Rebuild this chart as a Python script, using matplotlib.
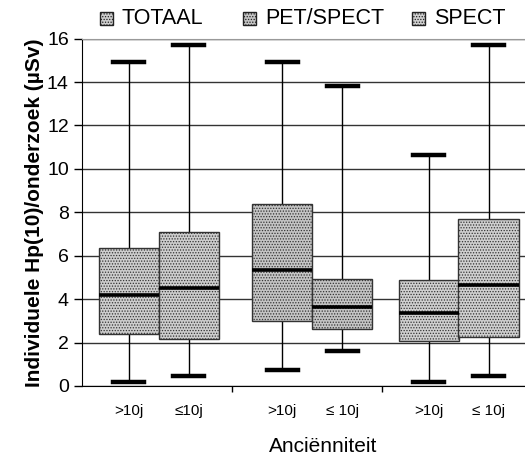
import numpy as np
import matplotlib
matplotlib.use("Agg")
import matplotlib.pyplot as plt
from matplotlib.patches import Rectangle

plt.rcParams["font.family"] = ["Liberation Sans", "DejaVu Sans"]
plt.rcParams["hatch.linewidth"] = 0.6

series = ["TOTAAL", "PET/SPECT", "SPECT"]
age_labels = [">10j", "\u226410j", ">10j", "\u2264 10j", ">10j", "\u2264 10j"]

# per box: TOTAAL >10j, TOTAAL <=10j, PET/SPECT >10j, ..., SPECT <=10j
whis_low = [0.18, 0.46, 0.74, 1.61, 0.18, 0.45]
q1 = [2.40, 2.15, 3.00, 2.61, 2.09, 2.24]
median = [4.17, 4.52, 5.34, 3.65, 3.38, 4.64]
q3 = [6.36, 7.07, 8.37, 4.94, 4.89, 7.69]
whis_high = [14.94, 15.70, 14.94, 13.81, 10.63, 15.70]

fills = ["#cdcdcd", "#c4c4c4", "#cfcfcf"]

W, H = 525, 454
fig = plt.figure(figsize=(W / 100, H / 100), dpi=100)
ax = fig.add_axes([82 / W, 68 / H, 443 / W, 347.4 / H])

stats = []
for i in range(6):
    stats.append(dict(med=median[i], q1=q1[i], q3=q3[i],
                      whislo=whis_low[i], whishi=whis_high[i], fliers=[]))

offsets = [0.31, 0.71]
pos = [g + offsets[k] + (0.025 if g == 1 else 0) for g in range(3) for k in range(2)]

bp = ax.bxp(stats, positions=pos, widths=0.4, capwidths=0.21, patch_artist=True,
            showfliers=False,
            boxprops=dict(edgecolor="#333333", linewidth=1.0),
            medianprops=dict(color="black", linewidth=2.6),
            whiskerprops=dict(color="black", linewidth=1.0),
            capprops=dict(color="black", linewidth=3.2))
for i, b in enumerate(bp["boxes"]):
    b.set_facecolor(fills[i // 2])
    b.set_hatch("......")
    b.set_zorder(3)
for m in bp["medians"]:
    m.set_zorder(4)

ax.set_ylim(0, 16)
ax.set_xlim(0, 443 / 150)
ax.set_yticks(np.arange(0, 17, 2))
ax.tick_params(axis="y", labelsize=14, length=6, width=1, direction="out")
ax.yaxis.grid(True, color="#333333", linewidth=1.0)
ax.set_axisbelow(True)

ax.set_xticks([1, 2])
ax.set_xticklabels([])
ax.tick_params(axis="x", which="major", length=4, width=1, direction="out")
ax.set_xticks(pos, minor=True)
ax.set_xticklabels(age_labels, minor=True, fontsize=11)
ax.tick_params(axis="x", which="minor", length=0, pad=13)

ax.spines["right"].set_visible(False)
ax.spines["top"].set_color("#999999")

ax.set_ylabel("Individuele Hp(10)/onderzoek (\u00b5Sv)", fontsize=15,
              fontweight="bold", labelpad=2)
fig.text(323 / W, 1 - 446 / H, "Anci\u00ebnniteit", fontsize=15,
         ha="center", va="center")

# legend row at the top
leg_x = [100, 243, 412]
for i in range(3):
    fig.add_artist(Rectangle((leg_x[i] / W, 1 - 25 / H), 13 / W, 13 / H,
                             transform=fig.transFigure, facecolor=fills[i],
                             edgecolor="#222222", hatch="......", linewidth=1.0))
    fig.text((leg_x[i] + 22) / W, 1 - 19 / H, series[i], fontsize=15.5,
             ha="left", va="center")

fig.savefig("out.png", dpi=100)
